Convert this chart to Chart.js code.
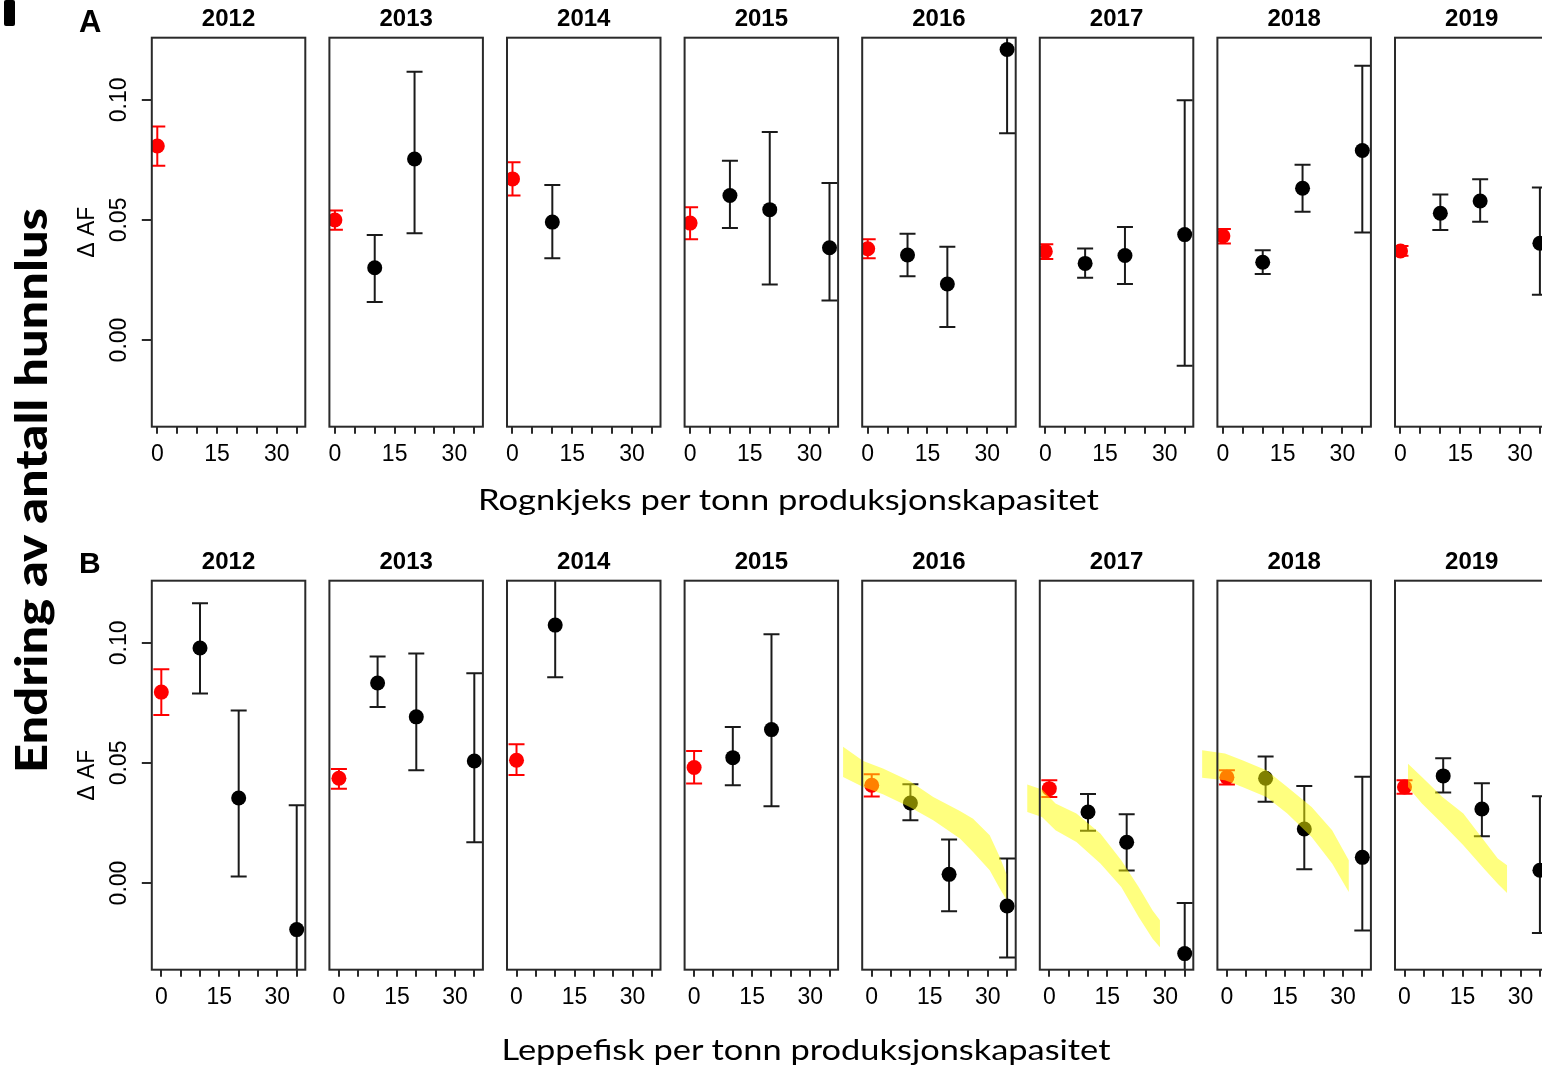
<!DOCTYPE html>
<html>
<head>
<meta charset="utf-8">
<script src="https://cdn.jsdelivr.net/npm/chart.js@4/dist/chart.umd.min.js"></script>
<style>
  html, body { margin: 0; padding: 0; background: #fff; width: 1542px; height: 1070px; overflow: hidden; }
  #fig { position: relative; width: 1542px; height: 1070px; }
  #fig canvas { position: absolute; }
  #overlay { position: absolute; left: 0; top: 0; z-index: 5; pointer-events: none; }
</style>
</head>
<body>
<div id="fig">
  <svg id="overlay" width="1542" height="1070" xmlns="http://www.w3.org/2000/svg">
    <rect x="4" y="0" width="11" height="26" rx="2" fill="#000"></rect>
    <text x="79" y="32" font-family="Liberation Sans, Arial, sans-serif" font-weight="bold" font-size="31" fill="#000">A</text>
    <text x="79" y="573" font-family="Liberation Sans, Arial, sans-serif" font-weight="bold" font-size="30" fill="#000">B</text>
    <text x="478" y="510" font-family="Lato, sans-serif" font-size="29" fill="#000" textLength="621" lengthAdjust="spacingAndGlyphs">Rognkjeks per tonn produksjonskapasitet</text>
    <text x="501.5" y="1060" font-family="Lato, sans-serif" font-size="29" fill="#000" textLength="609" lengthAdjust="spacingAndGlyphs">Leppefisk per tonn produksjonskapasitet</text>
    <text transform="translate(46.5,773) rotate(-90)" font-family="Lato, sans-serif" font-weight="900" font-size="43" fill="#000" textLength="565" lengthAdjust="spacingAndGlyphs">Endring av antall hunnlus</text>
  </svg>
</div>
<script>
// ---------------- data ----------------
const years = ['2012', '2013', '2014', '2015', '2016', '2017', '2018', '2019'];
const groupX = [0, 10, 20, 35];            // cleaner-fish density groups
const xTicks = [0, 5, 10, 15, 20, 25, 30, 35];
const xTickLabels = [0, 15, 30];
const yTicks = [0, 0.05, 0.10];
const yTickLabels = ['0.00', '0.05', '0.10'];

// A: Rognkjeks (lumpfish) — change in allele frequency per year, one entry per group
const rognMean = [
  [0.0808, null, null, null],
  [0.0500, 0.0301, 0.0754, null],
  [0.0671, 0.0491, null, null],
  [0.0487, 0.0602, 0.0543, 0.0384],
  [0.0380, 0.0354, 0.0233, 0.1210],
  [0.0369, 0.0319, 0.0352, 0.0439],
  [0.0433, 0.0324, 0.0632, 0.0789],
  [0.0371, 0.0528, 0.0579, 0.0403]
];
const rognLow = [
  [0.0726, null, null, null],
  [0.0459, 0.0158, 0.0445, null],
  [0.0602, 0.0340, null, null],
  [0.0420, 0.0467, 0.0231, 0.0165],
  [0.0340, 0.0266, 0.0054, 0.0861],
  [0.0337, 0.0259, 0.0233, -0.0107],
  [0.0402, 0.0275, 0.0534, 0.0448],
  [0.0351, 0.0458, 0.0493, 0.0188]
];
const rognHigh = [
  [0.0889, null, null, null],
  [0.0539, 0.0437, 0.1117, null],
  [0.0740, 0.0646, null, null],
  [0.0553, 0.0747, 0.0866, 0.0654],
  [0.0420, 0.0443, 0.0388, 0.1560],
  [0.0399, 0.0381, 0.0471, 0.0998],
  [0.0462, 0.0374, 0.0730, 0.1142],
  [0.0392, 0.0606, 0.0670, 0.0635]
];

// B: Leppefisk (wrasse)
const leppeMean = [
  [0.0795, 0.0979, 0.0354, -0.0194],
  [0.0436, 0.0833, 0.0692, 0.0508],
  [0.0511, 0.1074, null, null],
  [0.0481, 0.0522, 0.0639, null],
  [0.0407, 0.0333, 0.0036, -0.0096],
  [0.0393, 0.0296, 0.0170, -0.0294],
  [0.0440, 0.0436, 0.0225, 0.0107],
  [0.0400, 0.0446, 0.0308, 0.0053]
];
const leppeLow = [
  [0.0700, 0.0789, 0.0027, -0.0710],
  [0.0393, 0.0733, 0.0470, 0.0170],
  [0.0450, 0.0857, null, null],
  [0.0414, 0.0407, 0.0320, null],
  [0.0360, 0.0261, -0.0118, -0.0310],
  [0.0358, 0.0218, 0.0052, -0.0505],
  [0.0410, 0.0338, 0.0057, -0.0198],
  [0.0372, 0.0377, 0.0195, -0.0208]
];
const leppeHigh = [
  [0.0890, 0.1165, 0.0718, 0.0324],
  [0.0475, 0.0943, 0.0956, 0.0874],
  [0.0578, 0.1290, null, null],
  [0.0550, 0.0650, 0.1036, null],
  [0.0453, 0.0411, 0.0181, 0.0102],
  [0.0428, 0.0371, 0.0286, -0.0083],
  [0.0470, 0.0527, 0.0404, 0.0443],
  [0.0428, 0.0520, 0.0415, 0.0361]
];

// expected-decline bands (leppefisk, 2016-2019)
const band2016X     = [-7.4, -2.2, 2.9, 9.8, 15.9, 22.8, 26.2, 30.5, 33.1, 34.8];
const band2016Upper = [0.0567, 0.0508, 0.0477, 0.0425, 0.0358, 0.0300, 0.0268, 0.0199, 0.0108, 0.0039];
const band2016Lower = [0.0442, 0.0400, 0.0370, 0.0317, 0.0261, 0.0185, 0.0129, 0.0053, -0.0023, -0.0069];

const band2017X     = [-5.7, -1.9, 1.6, 7.0, 13.2, 18.6, 23.1, 26.7, 28.6];
const band2017Upper = [0.0410, 0.0389, 0.0331, 0.0289, 0.0206, 0.0095, -0.0017, -0.0114, -0.0155];
const band2017Lower = [0.0296, 0.0275, 0.0220, 0.0171, 0.0081, -0.0017, -0.0142, -0.0232, -0.0267];

const band2018X     = [-6.4, -0.5, 4.0, 10.2, 15.6, 21.9, 27.2, 31.5];
const band2018Upper = [0.0553, 0.0539, 0.0511, 0.0470, 0.0400, 0.0317, 0.0220, 0.0095];
const band2018Lower = [0.0438, 0.0428, 0.0400, 0.0358, 0.0289, 0.0192, 0.0081, -0.0037];

const band2019X     = [0.9, 4.5, 9.8, 15.2, 20.5, 24.1, 26.5];
const band2019Upper = [0.0497, 0.0442, 0.0358, 0.0289, 0.0178, 0.0102, 0.0074];
const band2019Lower = [0.0400, 0.0331, 0.0247, 0.0157, 0.0060, -0.0003, -0.0042];

// ---------------- layout & style ----------------
const R_FONT = '"Liberation Sans", Arial, sans-serif';
const FRAME = '#2a2a2a';
const RED = '#ff0000';
const BLACK = '#000000';
const BAND = 'rgba(255,255,0,0.5)';

const PANEL_LEFT0 = 151.8, PANEL_STEP = 177.6, PANEL_W = 153.5, PANEL_H = 389;
const ROW_TOP = [37.7, 580.7];
const ROW_CANVAS_TOP = [0, 540];
const X_RANGE = [[-1.38, 37.16], [-2.46, 37.22]];
const Y_RANGE = [-0.0361, 0.1259];
const X_AXIS_H = 50;
const TITLE_LINE = 24 * 1.2, TITLE_GAP = 4;

const rows = [
  { mean: rognMean, low: rognLow, high: rognHigh, bands: {} },
  { mean: leppeMean, low: leppeLow, high: leppeHigh, bands: {
      4: [band2016X, band2016Upper, band2016Lower],
      5: [band2017X, band2017Upper, band2017Lower],
      6: [band2018X, band2018Upper, band2018Lower],
      7: [band2019X, band2019Upper, band2019Lower] } }
];

function bandPolygon(xs, upper, lower) {
  const pts = xs.map((x, k) => ({ x, y: upper[k] }));
  for (let k = xs.length - 1; k >= 0; k--) pts.push({ x: xs[k], y: lower[k] });
  return pts;
}

// box round each panel
const framePlugin = {
  id: 'frame',
  afterDatasetsDraw(chart) {
    const { ctx, chartArea: a } = chart;
    ctx.save();
    ctx.strokeStyle = FRAME;
    ctx.lineWidth = 2;
    ctx.strokeRect(a.left, a.top, a.right - a.left, a.bottom - a.top);
    ctx.restore();
  }
};

// vertical interval with end caps, under the points
const errorBarPlugin = {
  id: 'errorBars',
  beforeDatasetsDraw(chart) {
    const { ctx, chartArea: a, scales: { x, y } } = chart;
    ctx.save();
    ctx.beginPath();
    ctx.rect(a.left, a.top, a.right - a.left, a.bottom - a.top);
    ctx.clip();
    ctx.lineWidth = 2;
    chart.data.datasets.forEach(ds => {
      if (!ds.errorBars) return;
      ds.data.forEach((d, k) => {
        const px = x.getPixelForValue(d.x);
        const p1 = y.getPixelForValue(d.lo);
        const p2 = y.getPixelForValue(d.hi);
        ctx.strokeStyle = ds.pointBackgroundColor[k] === RED ? RED : '#1a1a1a';
        ctx.beginPath();
        ctx.moveTo(px, p1); ctx.lineTo(px, p2);
        ctx.moveTo(px - 8, p1); ctx.lineTo(px + 8, p1);
        ctx.moveTo(px - 8, p2); ctx.lineTo(px + 8, p2);
        ctx.stroke();
      });
    });
    ctx.restore();
  }
};

// fills the closed outline of a band dataset (not limited to the plot box)
const bandFillPlugin = {
  id: 'bandFill',
  afterDatasetDraw(chart, args) {
    const ds = chart.data.datasets[args.index];
    if (!ds.bandColor) return;
    const line = args.meta.dataset;
    const ctx = chart.ctx;
    ctx.save();
    ctx.fillStyle = ds.bandColor;
    ctx.beginPath();
    line.path(ctx);
    ctx.closePath();
    ctx.fill();
    ctx.restore();
  }
};

function makePanel(row, i) {
  const src = rows[row];
  const L = PANEL_LEFT0 + PANEL_STEP * i;
  const T = ROW_TOP[row];
  const first = i === 0;
  const canvasTop = ROW_CANVAS_TOP[row];
  const canvasLeft = first ? 0 : Math.floor(L) - 30;
  const right = L + PANEL_W;
  const canvasW = Math.ceil(right + 12) - canvasLeft;
  const canvasH = Math.ceil(T + PANEL_H + X_AXIS_H) - canvasTop;
  const padLeft = first ? 0 : L - canvasLeft;
  const padRight = canvasLeft + canvasW - right;
  const padBottom = canvasTop + canvasH - (T + PANEL_H + X_AXIS_H);
  const titlePadTop = T - canvasTop - TITLE_LINE - TITLE_GAP;
  const yAxisW = first ? L : 0;

  const pts = [], colors = [];
  groupX.forEach((gx, k) => {
    const m = src.mean[i][k];
    if (m === null) return;
    pts.push({ x: gx, y: m, lo: src.low[i][k], hi: src.high[i][k] });
    colors.push(k === 0 ? RED : BLACK);
  });

  const datasets = [{
    type: 'scatter',
    data: pts,
    order: 1,
    clip: 0,
    errorBars: true,
    pointRadius: 7.5,
    pointHoverRadius: 7.5,
    pointBorderWidth: 0,
    pointBackgroundColor: colors,
    pointBorderColor: colors
  }];
  const band = src.bands[i];
  if (band) {
    datasets.push({
      type: 'line',
      data: bandPolygon(band[0], band[1], band[2]),
      order: 0,
      clip: false,
      fill: false,
      bandColor: BAND,
      borderColor: 'rgba(0,0,0,0)',
      borderWidth: 0,
      pointRadius: 0,
      tension: 0
    });
  }

  const canvas = document.createElement('canvas');
  canvas.width = canvasW;
  canvas.height = canvasH;
  canvas.style.left = canvasLeft + 'px';
  canvas.style.top = canvasTop + 'px';
  canvas.style.width = canvasW + 'px';
  canvas.style.height = canvasH + 'px';
  document.getElementById('fig').insertBefore(canvas, document.getElementById('overlay'));

  new Chart(canvas.getContext('2d'), {
    type: 'scatter',
    data: { datasets },
    plugins: [errorBarPlugin, bandFillPlugin, framePlugin],
    options: {
      responsive: false,
      animation: false,
      events: [],
      layout: { padding: { left: padLeft, right: padRight, top: 0, bottom: padBottom } },
      plugins: {
        legend: { display: false },
        tooltip: { enabled: false },
        title: {
          display: true, text: years[i], fullSize: false, color: '#000',
          font: { family: R_FONT, size: 24, weight: 'bold' },
          padding: { top: titlePadTop, bottom: TITLE_GAP }
        }
      },
      scales: {
        x: {
          type: 'linear', position: 'bottom',
          min: X_RANGE[row][0], max: X_RANGE[row][1],
          afterBuildTicks: s => { s.ticks = xTicks.map(v => ({ value: v })); },
          afterFit: s => { s.height = X_AXIS_H; },
          ticks: {
            autoSkip: false, maxRotation: 0, minRotation: 0, padding: 7, color: '#000',
            font: { family: R_FONT, size: 23 },
            callback: v => xTickLabels.includes(v) ? String(v) : ''
          },
          grid: { drawOnChartArea: false, drawTicks: true, tickLength: 7, color: FRAME, lineWidth: 2 },
          border: { display: false }
        },
        y: {
          type: 'linear', position: 'left', display: first,
          min: Y_RANGE[0], max: Y_RANGE[1],
          afterBuildTicks: s => { s.ticks = yTicks.map(v => ({ value: v })); },
          afterFit: s => { s.width = yAxisW; },
          ticks: {
            autoSkip: false, minRotation: 90, maxRotation: 90, crossAlign: 'center', padding: 0,
            color: '#000', font: { family: R_FONT, size: 23 },
            callback: (v, k) => yTickLabels[k]
          },
          grid: { drawOnChartArea: false, drawTicks: true, tickLength: 10, color: FRAME, lineWidth: 2 },
          border: { display: false },
          title: {
            display: true, text: 'Δ AF', color: '#000',
            font: { family: R_FONT, size: 23 },
            padding: { top: 74, bottom: 0 }
          }
        }
      }
    }
  });
}

for (let row = 0; row < 2; row++) {
  for (let i = 0; i < years.length; i++) makePanel(row, i);
}
</script>
</body>
</html>
